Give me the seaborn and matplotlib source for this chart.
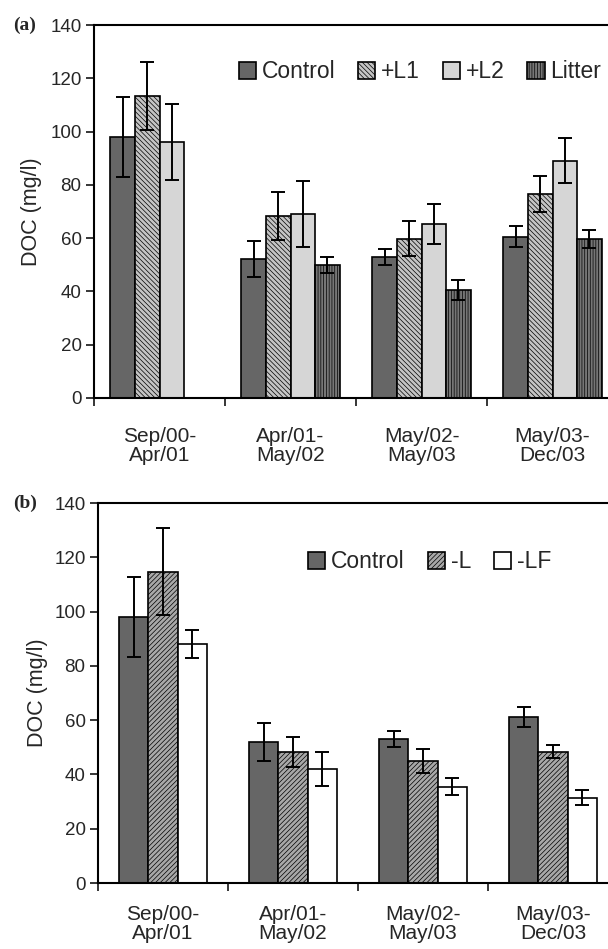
import numpy as np
import pandas as pd
import matplotlib
matplotlib.use("Agg")
import matplotlib.pyplot as plt
from matplotlib.patches import Patch
import seaborn as sns

# Data (mean DOC, mg/l, and error half-width)
periods = ["Sep/00-\nApr/01", "Apr/01-\nMay/02", "May/02-\nMay/03", "May/03-\nDec/03"]

treat_a = ["Control", "+L1", "+L2", "Litter"]
control_a = [98.1, 52.1, 53.1, 60.6]
l1_a = [113.4, 68.4, 59.8, 76.6]
l2_a = [96.1, 69.1, 65.4, 89.0]
litter_a = [np.nan, 50.0, 40.6, 59.6]
control_a_err = [15.0, 6.7, 3.0, 3.9]
l1_a_err = [12.7, 9.0, 6.5, 6.9]
l2_a_err = [14.2, 12.4, 7.5, 8.4]
litter_a_err = [np.nan, 3.0, 3.8, 3.4]

treat_b = ["Control", "-L", "-LF"]
control_b = [98.1, 51.8, 53.0, 61.1]
minus_l_b = [114.7, 48.4, 44.8, 48.4]
minus_lf_b = [88.0, 41.9, 35.5, 31.5]
control_b_err = [14.8, 7.0, 2.9, 3.8]
minus_l_b_err = [16.0, 5.5, 4.4, 2.5]
minus_lf_b_err = [5.2, 6.2, 3.2, 2.8]

yticks = [0, 20, 40, 60, 80, 100, 120, 140]

# styles per treatment: (facecolor, hatch)
styles_a = {"Control": ("#666666", None), "+L1": ("#c4c4c4", "\\" * 7),
            "+L2": ("#d6d6d6", None), "Litter": ("#767676", "|" * 6)}
styles_b = {"Control": ("#666666", None), "-L": ("#a8a8a8", "/" * 7),
            "-LF": ("#ffffff", None)}


def make_df(treats, values, errs):
    rows = []
    for t, vals, es in zip(treats, values, errs):
        for p, v, e in zip(periods, vals, es):
            rows.append({"period": p, "treatment": t, "doc": v, "err": e})
    return pd.DataFrame(rows)


df_a = make_df(treat_a, [control_a, l1_a, l2_a, litter_a],
               [control_a_err, l1_a_err, l2_a_err, litter_a_err])
df_b = make_df(treat_b, [control_b, minus_l_b, minus_lf_b],
               [control_b_err, minus_l_b_err, minus_lf_b_err])

sns.set_theme(style="ticks")
plt.rcParams["font.family"] = ["Liberation Sans", "DejaVu Sans"]
plt.rcParams["hatch.linewidth"] = 0.5

fig = plt.figure(figsize=(6.08, 9.49), dpi=100)
W, H = 608, 949
ax_a = fig.add_axes([94 / W, (H - 398) / H, 524 / W, 373 / H])
ax_b = fig.add_axes([98 / W, (H - 883) / H, 520 / W, 380 / H])


def draw_panel(ax, df, treats, styles, width, letter, letter_x, ylab_x, leg_anchor, xpad):
    sns.barplot(data=df.dropna(subset=["doc"]), x="period", y="doc", hue="treatment",
                order=periods, hue_order=treats, width=width, errorbar=None,
                legend=False, ax=ax, edgecolor="black", linewidth=1.2)
    for t, cont in zip(treats, ax.containers):
        fc, hatch = styles[t]
        sub = df[df["treatment"] == t].set_index("period")
        for bar in cont:
            bar.set_facecolor(fc)
            bar.set_edgecolor("black")
            if hatch:
                bar.set_hatch(hatch)
            xc = bar.get_x() + bar.get_width() / 2
            p = periods[int(round(xc))]
            v, e = sub.loc[p, "doc"], sub.loc[p, "err"]
            if np.isfinite(v):
                ax.errorbar(xc, v, yerr=e, fmt="none", ecolor="black",
                            elinewidth=1.4, capsize=5, capthick=1.4, zorder=5)

    ax.set_ylim(0, 140)
    ax.set_yticks(yticks)
    ax.set_xlim(-0.5, 3.5)
    ax.set_xlabel("")
    ax.set_ylabel("DOC (mg/l)", fontsize=15.5)
    ax.yaxis.set_label_coords(ylab_x, 0.5)
    ax.tick_params(axis="y", labelsize=13.5, length=6, width=1.3, pad=3, direction="out")
    ax.tick_params(axis="x", which="major", labelsize=15, length=0, pad=xpad)
    for lbl in ax.get_xticklabels():
        lbl.set_linespacing(1.0)
    ax.set_xticks([-0.5, 0.5, 1.5, 2.5, 3.5], minor=True)
    ax.tick_params(axis="x", which="minor", length=6, width=1.3, direction="out")
    for s in ["left", "bottom", "top"]:
        ax.spines[s].set_visible(True)
        ax.spines[s].set_linewidth(1.5)
        ax.spines[s].set_color("black")
    ax.spines["right"].set_visible(False)

    handles = []
    for t in treats:
        fc, hatch = styles[t]
        handles.append(Patch(facecolor=fc, edgecolor="black", hatch=hatch, linewidth=1.2, label=t))
    ax.legend(handles=handles, loc="center", bbox_to_anchor=leg_anchor, ncol=len(treats),
              frameon=False, fontsize=16.5, handlelength=0.75, handleheight=0.75,
              handletextpad=0.25, columnspacing=1.0, borderaxespad=0)

    ax.text(letter_x, 1.0, letter, transform=ax.transAxes, ha="left", va="center",
            fontsize=14, fontweight="bold", family=["Liberation Serif", "DejaVu Serif"])


draw_panel(ax_a, df_a, treat_a, styles_a, 0.75, "(a)", -0.155, -0.099, (0.622, 0.874), 21)
draw_panel(ax_b, df_b, treat_b, styles_b, 0.68, "(b)", -0.163, -0.096, (0.638, 0.845), 16)

fig.savefig("out.png", dpi=100)
